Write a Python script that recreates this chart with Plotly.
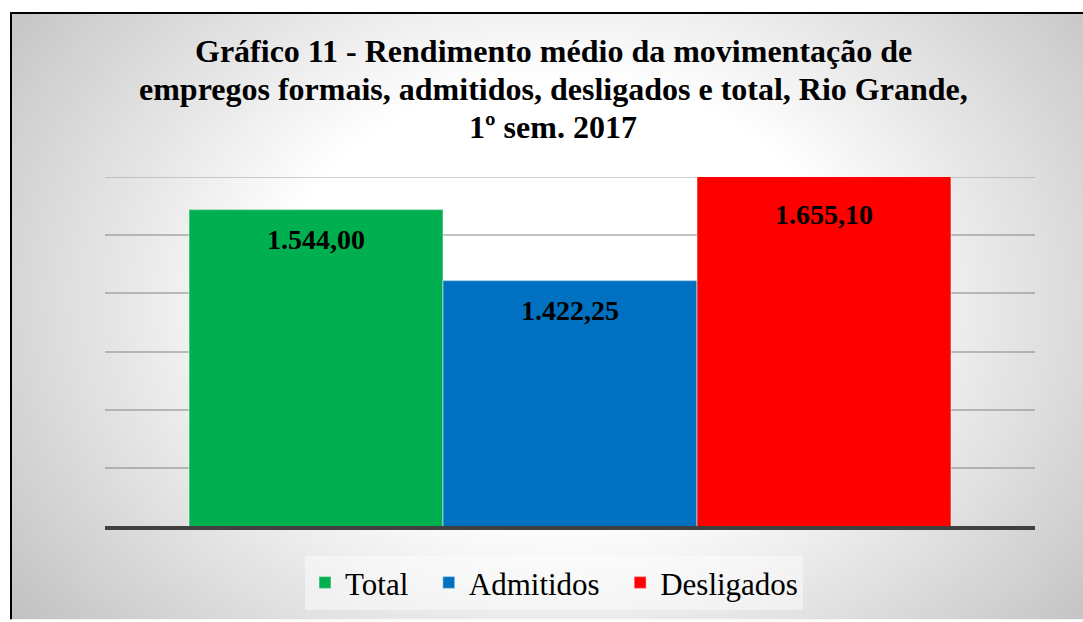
import base64
import plotly.graph_objects as go

# ---- data ----
series_names = ["Total", "Admitidos", "Desligados"]
values = [1544.00, 1422.25, 1655.10]
value_labels = ["1.544,00", "1.422,25", "1.655,10"]
colors = ["#00B050", "#0070C0", "#FF0000"]
y_min, y_max, y_step = 1000, 1600, 100
title_lines = [
    "Gráfico 11 - Rendimento médio da movimentação de",
    "empregos formais, admitidos, desligados e total, Rio Grande,",
    "1º sem. 2017",
]

W, H = 1083, 622
L, R, T, B = 105, 48, 177, 94
pw, ph = W - L - R, H - T - B
FONT = "Liberation Serif, Times New Roman, serif"
GRID = "rgba(120,120,120,0.45)"

# background: elliptical radial gradient with black frame on left/top
bx, by = 10, 11
bw, bh = W - bx, H - by
svg = f'''<svg xmlns="http://www.w3.org/2000/svg" width="{bw}" height="{bh}" viewBox="0 0 {bw} {bh}">
<defs><radialGradient id="g" gradientUnits="userSpaceOnUse" cx="550" cy="289" r="700"
 gradientTransform="translate(550 289) scale(1 0.7857) translate(-550 -289)">
<stop offset="0" stop-color="#ffffff"/><stop offset="0.4" stop-color="#ffffff"/>
<stop offset="1" stop-color="#bfbfbf"/></radialGradient></defs>
<rect x="0" y="0" width="{bw}" height="{bh}" fill="url(#g)"/>
<line x1="1" y1="0" x2="1" y2="{bh}" stroke="#000" stroke-width="2"/>
<line x1="0" y1="1" x2="{bw}" y2="1" stroke="#000" stroke-width="2"/>
</svg>'''
src = "data:image/svg+xml;base64," + base64.b64encode(svg.encode()).decode()

fig = go.Figure()
n = len(series_names)
for i, (name, v, c) in enumerate(zip(series_names, values, colors)):
    pad = "\u00a0\u00a0" if i < n - 1 else ""  # wider spacing between legend entries
    fig.add_trace(go.Bar(
        x=[name], y=[v], name=name + pad, width=1,
        marker=dict(color=c, line=dict(color="rgba(255,255,255,0.35)", width=1.5)),
        hoverinfo="skip",
    ))

annotations = []
for name, v, lab in zip(series_names, values, value_labels):
    clipped = v > y_max
    annotations.append(dict(
        x=name, y=min(v, y_max), xref="x", yref="y", text=f"<b>{lab}</b>",
        showarrow=False, yanchor="middle", yshift=-37 if clipped else -30,
        font=dict(family=FONT, size=28, color="#000000"),
    ))

# title lines (page y centres 50, 88, 127; x centre 553)
title_y = [50, 88, 127]
for line, yc in zip(title_lines, title_y):
    annotations.append(dict(
        text=f"<b>{line}</b>", showarrow=False,
        xref="paper", yref="paper",
        x=(553 - L) / pw, y=1 + (T - yc) / ph,
        xanchor="center", yanchor="middle",
        font=dict(family=FONT, size=32, color="#000000"),
    ))

fig.update_layout(
    width=W, height=H,
    margin=dict(l=L, r=R, t=T, b=B),
    paper_bgcolor="#ffffff", plot_bgcolor="rgba(0,0,0,0)",
    barmode="overlay",
    xaxis=dict(
        categoryorder="array", categoryarray=series_names,
        range=[-0.5 - 0.3307, n - 0.5 + 0.3307],
        showticklabels=False, showgrid=False, zeroline=False,
        showline=True, linewidth=4, linecolor="#404040", ticks="",
    ),
    yaxis=dict(
        range=[y_min, y_max], dtick=y_step, tick0=y_min,
        showticklabels=False, showgrid=True,
        gridcolor=GRID, gridwidth=1.5,
        zeroline=False, showline=False, ticks="",
    ),
    legend=dict(
        orientation="h", x=0.5 - 16 / pw, xanchor="center", y=-(30 / ph), yanchor="top",
        bgcolor="rgba(255,255,255,0.45)",
        font=dict(family=FONT, size=31, color="#000000"),
        itemwidth=30, traceorder="normal",
    ),
    shapes=[dict(
        type="line", xref="paper", yref="y", x0=0, x1=1, y0=y_max, y1=y_max,
        line=dict(color=GRID, width=1.5), layer="below",
    )],
    annotations=annotations,
    images=[dict(
        source=src, xref="paper", yref="paper",
        x=(bx - L) / pw, y=1 + (T - by) / ph,
        sizex=bw / pw, sizey=bh / ph,
        xanchor="left", yanchor="top", sizing="stretch", layer="below",
    )],
    showlegend=True,
)

fig.write_html(
    "out.html",
    config={"displayModeBar": False},
    post_script="document.body.style.margin='0';document.body.style.overflow='hidden';",
)
